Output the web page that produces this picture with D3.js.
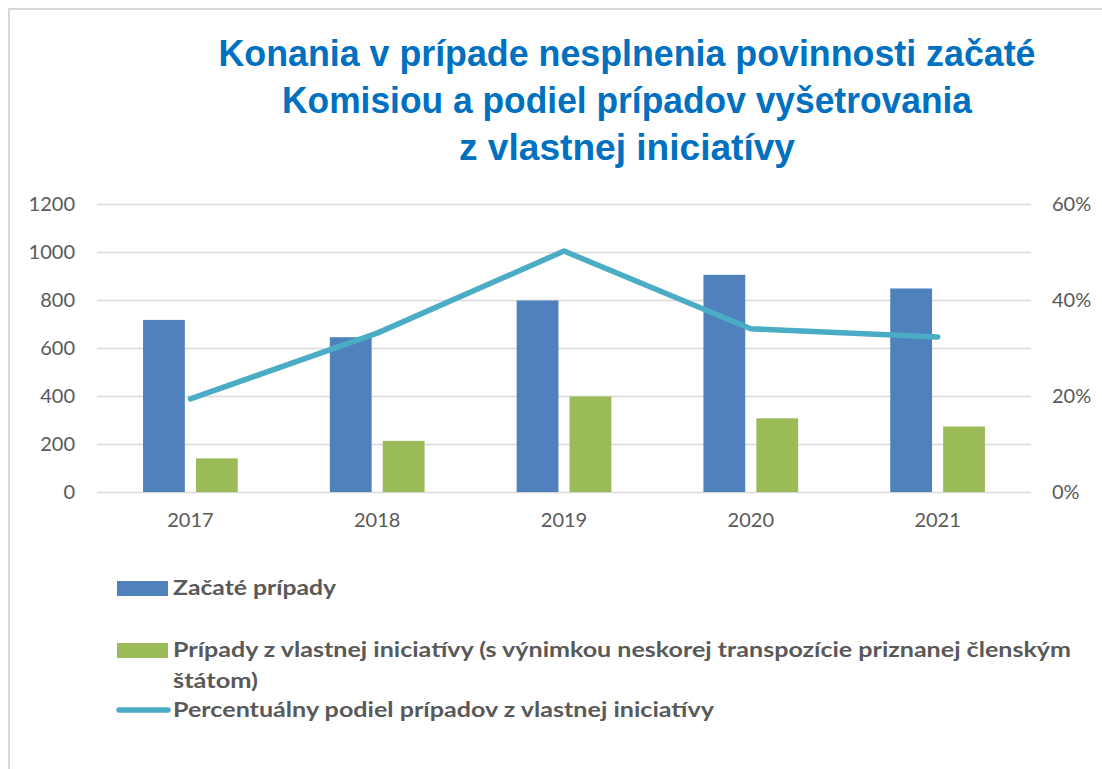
<!DOCTYPE html>
<html>
<head>
<meta charset="utf-8">
<script src="https://cdn.jsdelivr.net/npm/d3@7"></script>
<style>
  html, body { margin: 0; padding: 0; background: #fff; }
  svg { display: block; }
</style>
</head>
<body>
<div id="chart"></div>
<script>
// data
const categories = ["2017", "2018", "2019", "2020", "2021"];
const startedCases = [717, 645, 798, 905, 848];
const ownInitiativeCases = [140, 213, 398, 307, 273];
const ownInitiativeShare = [0.194, 0.331, 0.502, 0.340, 0.323];
const leftTicks = [0, 200, 400, 600, 800, 1000, 1200];
const rightTicks = [0, 0.2, 0.4, 0.6];
const titleLines = [
  "Konania v prípade nesplnenia povinnosti začaté",
  "Komisiou a podiel prípadov vyšetrovania",
  "z vlastnej iniciatívy"
];
const seriesNames = [
  "Začaté prípady",
  "Prípady z vlastnej iniciatívy (s výnimkou neskorej transpozície priznanej členským",
  "Percentuálny podiel prípadov z vlastnej iniciatívy"
];
const seriesNameWrap = "štátom)";

const width = 1102, height = 769;
const plot = { left: 97, right: 1031, top: 204, bottom: 492 };
const colors = { started: "#4F81BD", own: "#9BBB59", share: "#4BACC6" };
const grey = "#595959";

const svg = d3.select("#chart").append("svg")
    .attr("width", width)
    .attr("height", height);

// frame (only top and left edges are visible in the crop)
svg.append("rect")
    .attr("x", 9).attr("y", 9)
    .attr("width", width + 20).attr("height", height + 20)
    .attr("fill", "none")
    .attr("stroke", "#D9D9D9")
    .attr("stroke-width", 2);

// title
const titleWidths = [817, 690, 336];
const titleBase = [66, 113, 160];
svg.append("g")
    .selectAll("text")
    .data(titleLines)
    .join("text")
        .attr("x", 627)
        .attr("y", (d, i) => titleBase[i])
        .attr("text-anchor", "middle")
        .attr("font-family", "'Liberation Sans', Arial, sans-serif")
        .attr("font-weight", "bold")
        .attr("font-size", 36)
        .attr("fill", "#0070C0")
        .attr("textLength", (d, i) => titleWidths[i])
        .attr("lengthAdjust", "spacingAndGlyphs")
        .text(d => d);

// scales
const x = d3.scaleBand()
    .domain(categories)
    .range([plot.left, plot.right]);

const xSub = d3.scaleBand()
    .domain(["started", "own"])
    .range([0, x.bandwidth()])
    .paddingInner(0.21)
    .paddingOuter(0.87);

const y = d3.scaleLinear()
    .domain([0, 1200])
    .range([plot.bottom, plot.top]);

const yRight = d3.scaleLinear()
    .domain([0, 0.6])
    .range([plot.bottom, plot.top]);

// gridlines
const grid = svg.append("g")
    .attr("transform", `translate(${plot.left},0)`)
    .call(d3.axisLeft(y)
        .tickValues(leftTicks)
        .tickSize(-(plot.right - plot.left))
        .tickFormat(""));
grid.select(".domain").remove();
grid.selectAll("line")
    .attr("stroke", "#D9D9D9")
    .attr("stroke-width", 1.4);

// axes
function styleAxis(g) {
    g.select(".domain").remove();
    g.selectAll("line").remove();
    g.selectAll("text")
        .attr("font-family", "Lato, 'Noto Sans', sans-serif")
        .attr("font-size", 20)
        .attr("fill", grey);
}

svg.append("g")
    .attr("transform", `translate(${plot.left},0)`)
    .call(d3.axisLeft(y).tickValues(leftTicks).tickSize(0).tickPadding(22)
        .tickFormat(d3.format("d")))
    .call(styleAxis);

svg.append("g")
    .attr("transform", `translate(${plot.right},0)`)
    .call(d3.axisRight(yRight).tickValues(rightTicks).tickSize(0).tickPadding(21)
        .tickFormat(d3.format(".0%")))
    .call(styleAxis);

svg.append("g")
    .attr("transform", `translate(0,${plot.bottom})`)
    .call(d3.axisBottom(x).tickSize(0).tickPadding(21))
    .call(styleAxis);

// bars
const barData = categories.map((c, i) => [
    { cat: c, key: "started", value: startedCases[i] },
    { cat: c, key: "own", value: ownInitiativeCases[i] }
]).flat();

svg.append("g")
    .selectAll("rect")
    .data(barData)
    .join("rect")
        .attr("x", d => x(d.cat) + xSub(d.key))
        .attr("y", d => y(d.value))
        .attr("width", xSub.bandwidth())
        .attr("height", d => y(0) - y(d.value))
        .attr("fill", d => colors[d.key]);

// share line
const line = d3.line()
    .x((d, i) => x(categories[i]) + x.bandwidth() / 2)
    .y(d => yRight(d));

svg.append("path")
    .datum(ownInitiativeShare)
    .attr("d", line)
    .attr("fill", "none")
    .attr("stroke", colors.share)
    .attr("stroke-width", 5.5)
    .attr("stroke-linecap", "round")
    .attr("stroke-linejoin", "round");

// legend
const legend = svg.append("g")
    .attr("font-family", "Lato, 'Noto Sans', sans-serif")
    .attr("font-weight", "bold")
    .attr("font-size", 20)
    .attr("fill", grey);

const legendRows = [
    { key: "started", label: seriesNames[0], y: 595, w: 163 },
    { key: "own", label: seriesNames[1], y: 657, w: 898 },
    { key: "share", label: seriesNames[2], y: 717, w: 541 }
];

legendRows.forEach(r => {
    if (r.key === "share") {
        legend.append("line")
            .attr("x1", 119).attr("x2", 168)
            .attr("y1", r.y - 7).attr("y2", r.y - 7)
            .attr("stroke", colors.share)
            .attr("stroke-width", 5.5)
            .attr("stroke-linecap", "round");
    } else {
        legend.append("rect")
            .attr("x", 117).attr("y", r.y - 14)
            .attr("width", 51).attr("height", 15)
            .attr("fill", colors[r.key]);
    }
    legend.append("text")
        .attr("x", 173).attr("y", r.y)
        .attr("textLength", r.w)
        .attr("lengthAdjust", "spacingAndGlyphs")
        .text(r.label);
});

legend.append("text")
    .attr("x", 173).attr("y", 688)
    .attr("textLength", 85)
    .attr("lengthAdjust", "spacingAndGlyphs")
    .text(seriesNameWrap);
</script>
</body>
</html>
